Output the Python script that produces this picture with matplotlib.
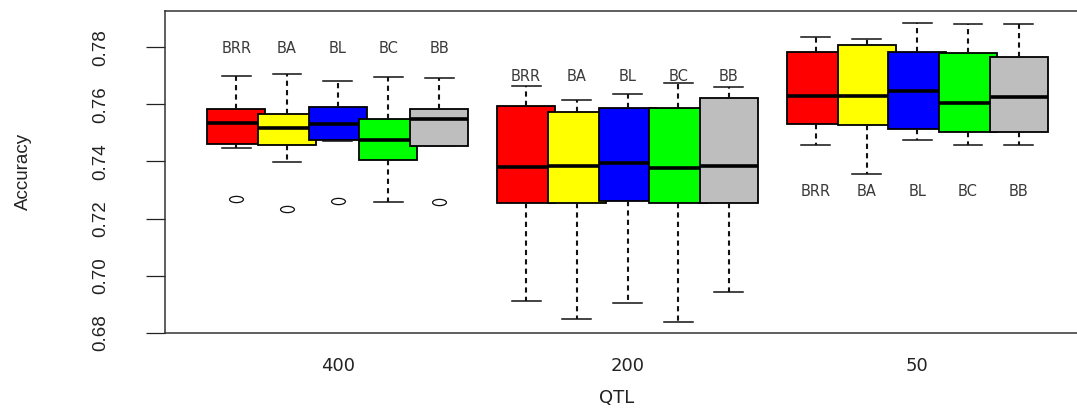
import matplotlib
matplotlib.use('Agg')
import matplotlib.pyplot as plt
from matplotlib.path import Path
from matplotlib.transforms import Affine2D


groups = ['400', '200', '50']
methods = ['BRR', 'BA', 'BL', 'BC', 'BB']
colors = ['#FF0000', '#FFFF00', '#0000FF', '#00FF00', '#BEBEBE']

# five number summaries, one row per QTL group, methods in order BRR BA BL BC BB
q1 = [[0.7461, 0.7458, 0.7475, 0.7405, 0.7455],
      [0.7255, 0.7255, 0.7262, 0.7253, 0.7255],
      [0.7531, 0.7528, 0.7512, 0.7504, 0.7502]]
med = [[0.7536, 0.7518, 0.7532, 0.7475, 0.7547],
       [0.7381, 0.7385, 0.7393, 0.7376, 0.7384],
       [0.7630, 0.7630, 0.7648, 0.7603, 0.7627]]
q3 = [[0.7585, 0.7567, 0.7591, 0.7547, 0.7582],
      [0.7594, 0.7574, 0.7588, 0.7588, 0.7621],
      [0.7784, 0.7808, 0.7784, 0.7779, 0.7765]]
whislo = [[0.7446, 0.7398, 0.7472, 0.7257, 0.7454],
          [0.6912, 0.6849, 0.6905, 0.6839, 0.6943],
          [0.7456, 0.7355, 0.7476, 0.7458, 0.7458]]
whishi = [[0.7698, 0.7705, 0.7683, 0.7695, 0.7691],
          [0.7665, 0.7615, 0.7635, 0.7674, 0.7662],
          [0.7835, 0.7830, 0.7884, 0.7881, 0.7881]]
outliers = [[[0.7268], [0.7234], [0.7261], [], [0.7257]],
            [[], [], [], [], []],
            [[], [], [], [], []]]
label_y = [0.7797, 0.7698, 0.7294]

yticks = [0.68, 0.70, 0.72, 0.74, 0.76, 0.78]

narrow = ['Liberation Sans Narrow', 'Liberation Sans', 'DejaVu Sans']

fig = plt.figure(figsize=(10.77, 4.08), dpi=100)
ax = fig.add_axes([165 / 1077, 75 / 408, 914 / 1077, 322.3 / 408])

# flattened ellipse for the outliers (the picture is squeezed vertically)
ell = Path.unit_circle().transformed(Affine2D().scale(1.0, 0.45))

step = 0.175
for gi in range(len(groups)):
    for mi in range(len(methods)):
        st = {'med': med[gi][mi], 'q1': q1[gi][mi], 'q3': q3[gi][mi],
              'whislo': whislo[gi][mi], 'whishi': whishi[gi][mi],
              'fliers': outliers[gi][mi]}
        pos = gi + 1 + (mi - 2) * step
        ax.bxp([st], positions=[pos], widths=0.2, capwidths=0.1,
               patch_artist=True, manage_ticks=False,
               zorder=2 + gi * 5 + mi,
               boxprops=dict(facecolor=colors[mi], edgecolor='#000000', linewidth=1.3),
               medianprops=dict(color='#000000', linewidth=2.6),
               whiskerprops=dict(color='#111111', linewidth=1.5, linestyle=(0, (2.5, 2))),
               capprops=dict(color='#111111', linewidth=1.1),
               flierprops=dict(marker=ell, markersize=10, markerfacecolor='none',
                               markeredgecolor='#111111', markeredgewidth=0.9))
        ax.text(pos, label_y[gi], methods[mi], ha='center', va='center',
                fontsize=10.5, color='#3a3a3a', family='DejaVu Sans')

ax.set_xlim(0.404, 3.558)
ax.set_ylim(0.6799, 0.7928)

ax.set_xticks([1, 2, 3])
ax.set_xticklabels(groups, fontsize=13, color='#222222')
ax.tick_params(axis='x', length=0, pad=17)

ax.set_yticks(yticks)
ax.set_yticklabels(['%.2f' % v for v in yticks], rotation=90, va='center',
                   fontsize=13.5, color='#222222', family=narrow)
ax.tick_params(axis='y', length=14, width=0.9, color='#222222', pad=26)

ax.set_xlabel('QTL', fontsize=13, color='#222222')
ax.xaxis.set_label_coords((617 - 165) / 914, (333 - 398) / 322.3)
ax.xaxis.label.set_va('center')
ax.set_ylabel('Accuracy', fontsize=13.5, color='#222222', family=narrow)
ax.yaxis.set_label_coords((23 - 165) / 914, 0.5)
ax.yaxis.label.set_va('center')

for sp in ax.spines.values():
    sp.set_linewidth(1.1)
    sp.set_color('#333333')

fig.savefig('out.png', dpi=100)
